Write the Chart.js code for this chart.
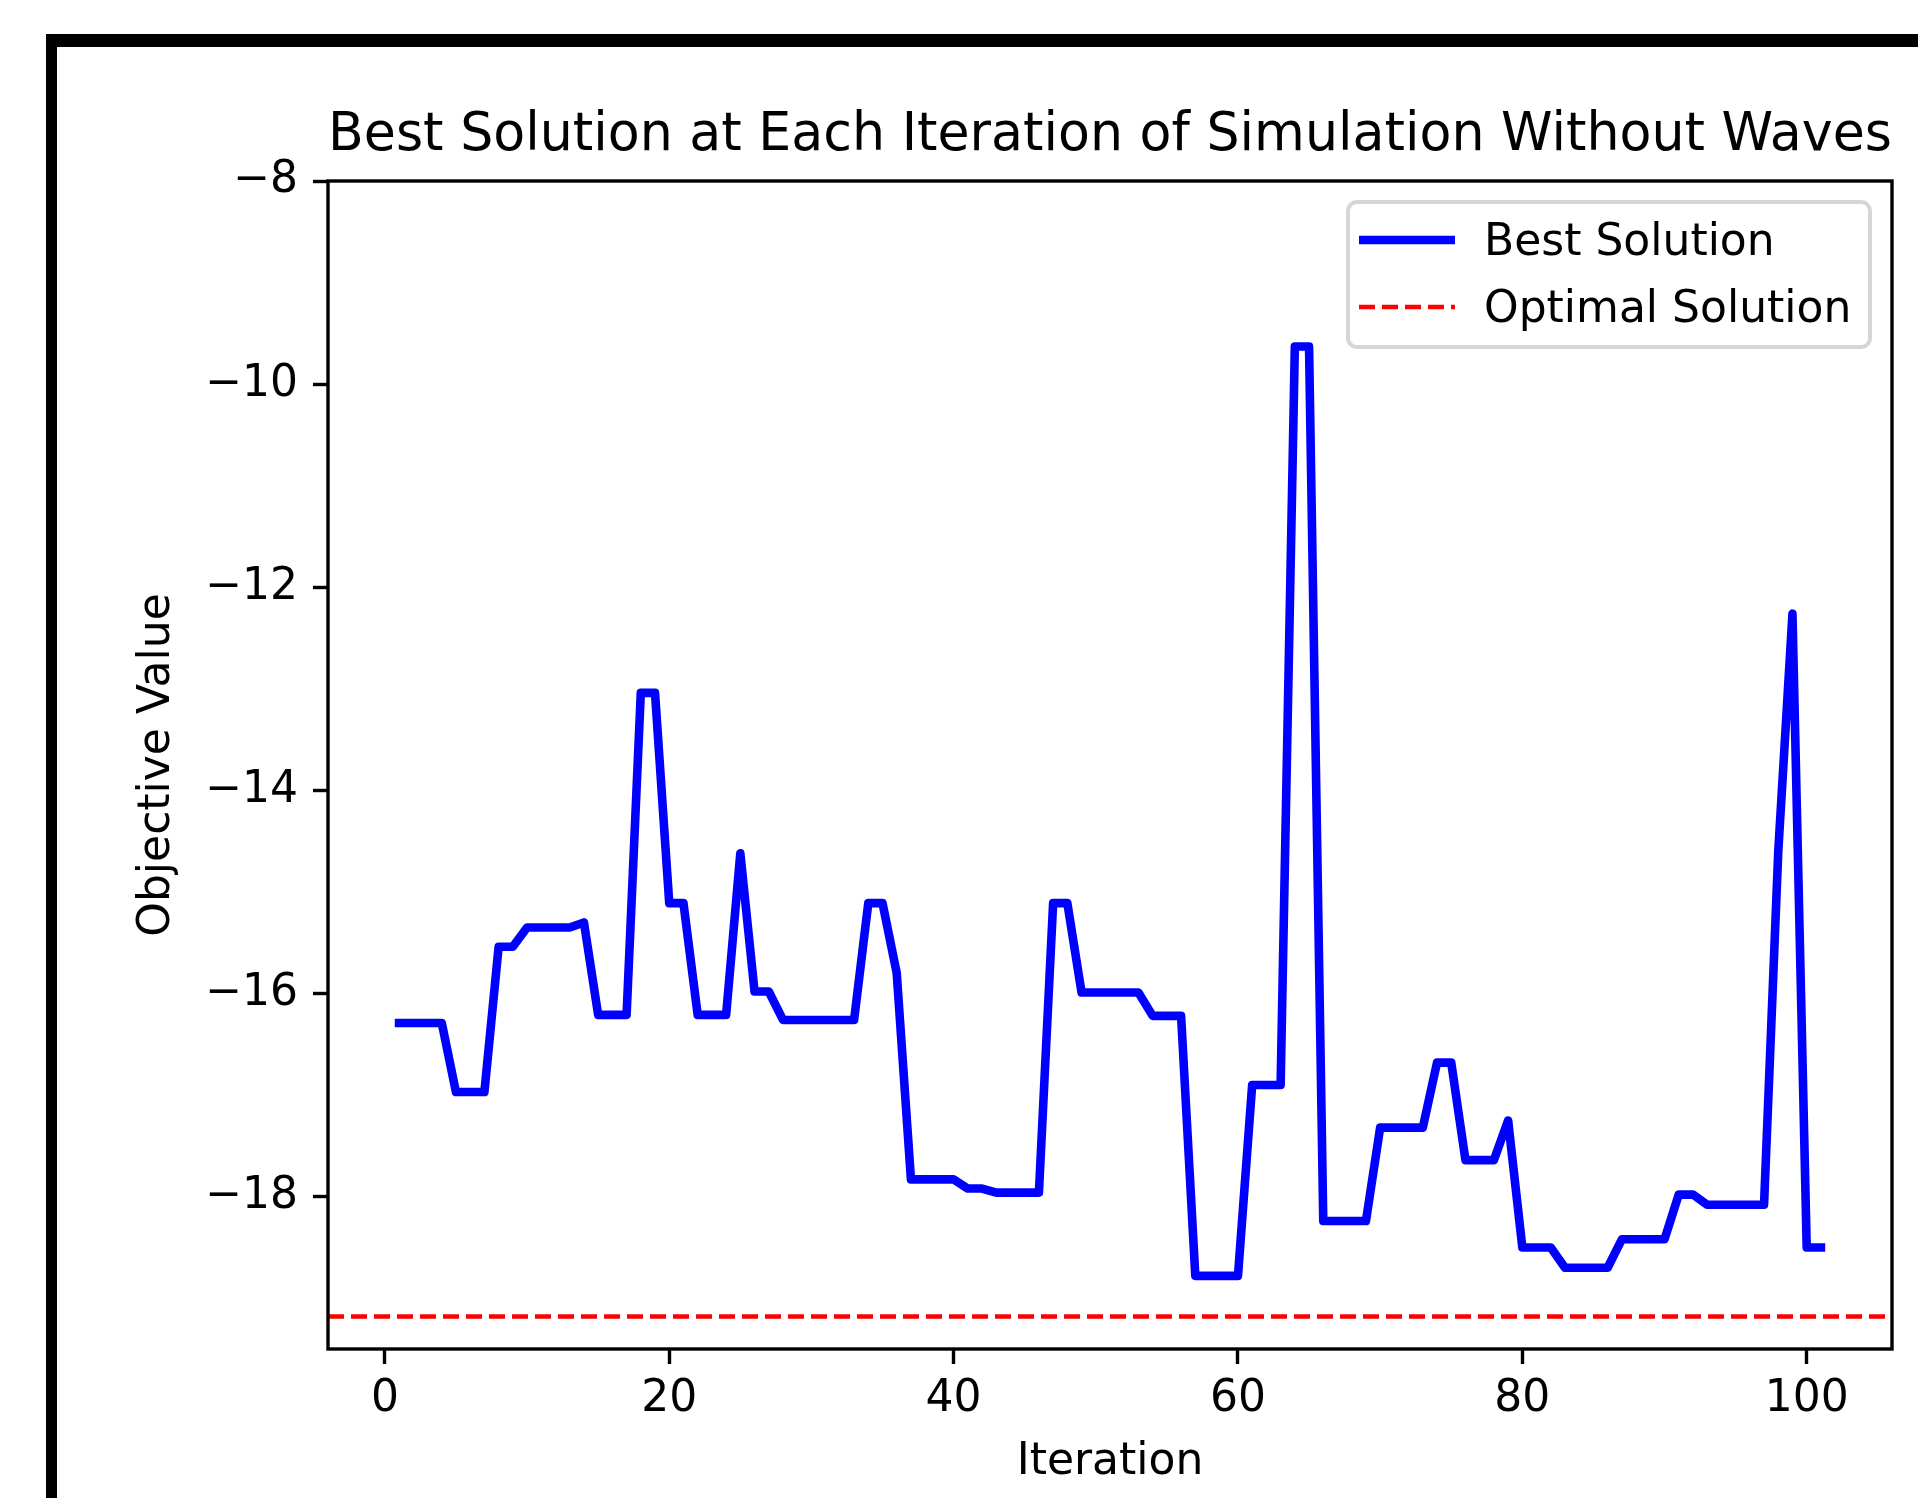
<!DOCTYPE html>
<html>
<head>
<meta charset="utf-8">
<script src="https://cdn.jsdelivr.net/npm/chart.js@4.4.1/dist/chart.umd.min.js"></script>
<style>
  html, body { margin: 0; padding: 0; background: #fff; }
  #frame { position: absolute; left: 46px; top: 34px; width: 2000px; height: 2000px;
           border-left: 11px solid #000; border-top: 13px solid #000; }
  #wrap { position: absolute; left: 0; top: 0; width: 1918px; height: 1498px; }
</style>
</head>
<body>
<div id="frame"></div>
<div id="wrap"><canvas id="chart" width="1918" height="1498"></canvas></div>
<script>
const bestSolution = [
  -16.29, -16.29, -16.29, -16.29, -16.97, -16.97, -16.97, -15.54, -15.54, -15.35,
  -15.35, -15.35, -15.35, -15.30, -16.21, -16.21, -16.21, -13.04, -13.04, -15.11,
  -15.11, -16.21, -16.21, -16.21, -14.62, -15.98, -15.98, -16.26, -16.26, -16.26,
  -16.26, -16.26, -16.26, -15.11, -15.11, -15.80, -17.83, -17.83, -17.83, -17.83,
  -17.92, -17.92, -17.96, -17.96, -17.96, -17.96, -15.11, -15.11, -15.99, -15.99,
  -15.99, -15.99, -15.99, -16.22, -16.22, -16.22, -18.78, -18.78, -18.78, -18.78,
  -16.90, -16.90, -16.90, -9.63, -9.63, -18.24, -18.24, -18.24, -18.24, -17.32,
  -17.32, -17.32, -17.32, -16.68, -16.68, -17.64, -17.64, -17.64, -17.25, -18.50,
  -18.50, -18.50, -18.70, -18.70, -18.70, -18.70, -18.42, -18.42, -18.42, -18.42,
  -17.98, -17.98, -18.08, -18.08, -18.08, -18.08, -18.08, -14.60, -12.26, -18.50,
  -18.50
];
const iterations = bestSolution.map((_, i) => i + 1);
const optimalSolution = -19.18;
const xTicks = [0, 20, 40, 60, 80, 100];
const yTicks = [-18, -16, -14, -12, -10, -8];
const xRange = [-4, 106];
const yRange = [-19.5, -8];

Chart.defaults.font.family = 'DejaVu Sans';
Chart.defaults.color = '#000';

const minus = v => String(v).replace('-', '\u2212');

// axes box (all four spines)
const spines = {
  id: 'spines',
  afterDatasetsDraw(chart) {
    const a = chart.chartArea, ctx = chart.ctx;
    ctx.save();
    ctx.strokeStyle = '#000';
    ctx.lineWidth = 3.4;
    ctx.strokeRect(a.left, a.top, a.right - a.left, a.bottom - a.top);
    ctx.restore();
  }
};

// matplotlib style legend box in the upper right
const boxLegend = {
  id: 'boxLegend',
  afterDraw(chart) {
    const a = chart.chartArea, ctx = chart.ctx;
    const left = a.right - 544, top = a.top + 21, w = 522, h = 145;
    ctx.save();
    ctx.beginPath();
    ctx.roundRect(left, top, w, h, 9);
    ctx.fillStyle = 'rgba(255,255,255,0.8)';
    ctx.fill();
    ctx.lineWidth = 4;
    ctx.strokeStyle = '#d6d6d6';
    ctx.stroke();
    const rows = [38, 105];
    chart.data.datasets.forEach((ds, i) => {
      const y = top + rows[i];
      ctx.beginPath();
      ctx.setLineDash(ds.borderDash || []);
      ctx.lineWidth = ds.borderWidth;
      ctx.strokeStyle = ds.borderColor;
      ctx.moveTo(left + 11, y);
      ctx.lineTo(left + 107, y);
      ctx.stroke();
      ctx.setLineDash([]);
      ctx.fillStyle = '#000';
      ctx.font = '44px "DejaVu Sans"';
      ctx.textBaseline = 'alphabetic';
      ctx.fillText(ds.label, left + 136, y + 15);
    });
    ctx.restore();
  }
};

new Chart(document.getElementById('chart'), {
  type: 'line',
  data: {
    datasets: [
      {
        label: 'Best Solution',
        data: iterations.map((x, i) => ({ x, y: bestSolution[i] })),
        borderColor: '#0000ff',
        borderWidth: 8.6,
        borderJoinStyle: 'round',
        borderCapStyle: 'square',
        pointRadius: 0,
        tension: 0
      },
      {
        label: 'Optimal Solution',
        data: xRange.map(x => ({ x, y: optimalSolution })),
        borderColor: '#ff0000',
        borderWidth: 4.3,
        borderDash: [16, 7],
        pointRadius: 0
      }
    ]
  },
  options: {
    responsive: false,
    animation: false,
    devicePixelRatio: 1,
    layout: { padding: { left: 131, right: 26, top: 0, bottom: 0 } },
    plugins: {
      legend: { display: false },
      tooltip: { enabled: false },
      title: {
        display: true,
        fullSize: false,
        text: 'Best Solution at Each Iteration of Simulation Without Waves',
        color: '#000',
        font: { size: 53, weight: 'normal' },
        padding: { top: 104, bottom: 13.4 }
      }
    },
    scales: {
      x: {
        type: 'linear',
        min: xRange[0],
        max: xRange[1],
        afterBuildTicks: s => { s.ticks = xTicks.map(value => ({ value })); },
        afterFit: s => { s.height = 149; },
        grid: { drawOnChartArea: false, drawTicks: true, tickLength: 15, tickWidth: 3.4, tickColor: '#000' },
        border: { display: false },
        ticks: { color: '#000', font: { size: 44 }, padding: 9, maxRotation: 0 },
        title: { display: true, text: 'Iteration', color: '#000', font: { size: 44 }, padding: { top: 0, bottom: 9 } }
      },
      y: {
        min: yRange[0],
        max: yRange[1],
        afterBuildTicks: s => { s.ticks = yTicks.map(value => ({ value })); },
        afterFit: s => { s.width = 197; },
        grid: { drawOnChartArea: false, drawTicks: true, tickLength: 15, tickWidth: 3.4, tickColor: '#000' },
        border: { display: false },
        ticks: { color: '#000', font: { size: 44 }, padding: 15, callback: v => minus(v) },
        title: { display: true, text: 'Objective Value', color: '#000', font: { size: 44 }, padding: { top: 0, bottom: 0 } }
      }
    }
  },
  plugins: [spines, boxLegend]
});
</script>
</body>
</html>
